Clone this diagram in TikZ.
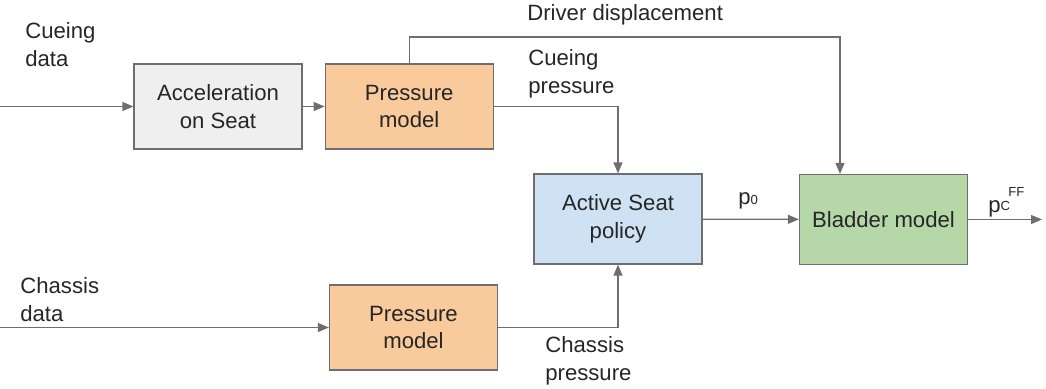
\documentclass[tikz,border=0pt]{standalone}
\usepackage{fontspec}
\setmainfont{Liberation Sans}
\usetikzlibrary{positioning,arrows.meta}
\definecolor{linegray}{HTML}{6E6E6E}
\definecolor{accelfill}{HTML}{EFEFEF}
\definecolor{pressfill}{HTML}{F9CB9C}
\definecolor{seatfill}{HTML}{CFE2F3}
\definecolor{bladderfill}{HTML}{B6D7A8}
\newcommand{\smalltag}[1]{{\fontsize{7.5}{7.5}\selectfont #1}}
\tikzset{
block/.style={rectangle, minimum width = 3.36cm, minimum height = 1.7cm, draw = linegray, line width = 0.7pt, align = center, text = black!85},
label/.style={align = left, inner sep = 0pt, text = black!85},
connect/.style={-{Triangle[length=2.2mm, width=1.8mm]}, line width = 0.7pt, draw = linegray}
}

\begin{document}
\begin{tikzpicture}[x=0.02cm, y=-0.02cm, font=\fontsize{12.6}{15.9}\selectfont]
        \useasboundingbox (0,0) rectangle (1046,389);
        \node[block, fill=accelfill] (accel) at (218,106.5) {Acceleration\\on Seat};
        \node[block, fill=pressfill, right=0.44cm of accel] (press_cue) {Pressure\\model};
        \node[block, fill=seatfill, minimum height=1.8cm] (seat) at (618,219) {Active Seat\\policy};
        \node[block, fill=bladderfill, minimum height=1.8cm] (bladder) at (883.5,219.5) {Bladder model};
        \node[block, fill=pressfill] (press_ch) at (413.5,327.5) {Pressure\\model};

        \coordinate (cue_in) at (0,106.5);
        \coordinate (ch_in) at (0,327.5);
        \coordinate (drv) at (840,37);
        \coordinate (out) at (1042,219.5);

        \node[label, anchor=west] (cue_lbl) at (25,45) {Cueing\\data};
        \node[label, anchor=west] (ch_lbl) at (20,300) {Chassis\\data};
        \node[label, anchor=west] (drv_lbl) at (527,15) {Driver displacement};
        \node[label, anchor=west] (cp_lbl) at (528,74) {Cueing\\pressure};
        \node[label, anchor=west] (chp_lbl) at (545,361) {Chassis\\pressure};
        \node[label, anchor=west] (p0_lbl) at (738,201) {p\smalltag{0}};
        \node[label, anchor=west] (pff_lbl) at (988,202) {p\raisebox{0.2ex}{\smalltag{C}}\hspace{-1pt}\raisebox{1.4ex}{\smalltag{FF}}};

        \draw[connect](cue_in) to (accel);
        \draw[connect](accel) to (press_cue);
        \draw[connect](ch_in) to (press_ch);
        \draw[connect](press_cue.east) -| (seat.north);
        \draw[connect](press_ch.east) -| (seat.south);
        \draw[connect](press_cue.north) |- (drv) -- (drv |- bladder.north);
        \draw[connect](seat) to (bladder);
        \draw[connect](bladder) to (out);
    \end{tikzpicture}
\end{document}
